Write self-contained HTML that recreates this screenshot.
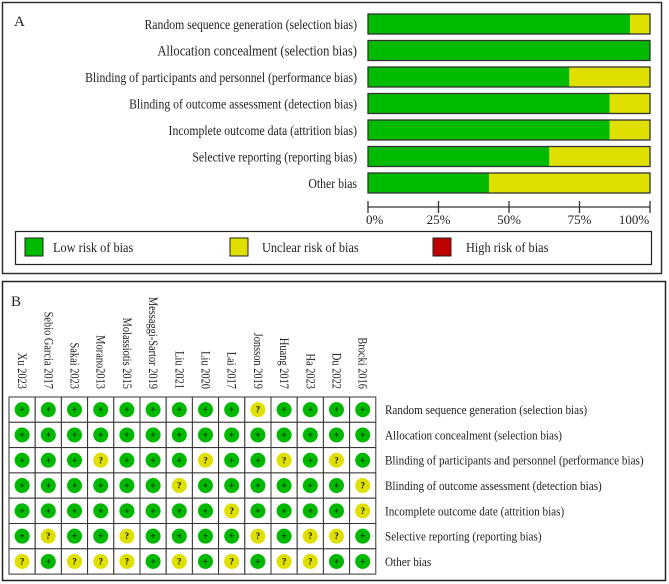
<!DOCTYPE html>
<html><head><meta charset="utf-8"><style>
html,body{margin:0;padding:0;background:#fff;}
svg{display:block;font-family:"Liberation Serif",serif;}
</style></head><body>
<svg id="chart" width="669" height="584" viewBox="0 0 669 584" xmlns="http://www.w3.org/2000/svg">
<rect x="2.5" y="2.5" width="659" height="271" fill="#fff" stroke="#333" stroke-width="1.5"/>
<text x="14" y="26" font-size="15" fill="#222">A</text>
<rect x="2.5" y="281.5" width="663" height="299" fill="#fff" stroke="#222" stroke-width="1.5"/>
<text x="11" y="306" font-size="15" fill="#222">B</text>
<g id="pa"></g><g id="pb"></g>
<rect x="15.5" y="231.5" width="636" height="33" fill="#fff" stroke="#222" stroke-width="1.2"/>
<rect x="25" y="238" width="18" height="18" fill="#00bb00" stroke="#222"/>
<text x="53" y="252" font-size="14" fill="#222" transform="scale(0.88,1)" id="lg1">Low risk of bias</text>
<rect x="230" y="238" width="18" height="18" fill="#e0e000" stroke="#222"/>
<text x="262" y="252" font-size="14" fill="#222" id="lg2">Unclear risk of bias</text>
<rect x="433" y="238" width="18" height="18" fill="#c00000" stroke="#222"/>
<text x="466" y="252" font-size="14" fill="#222" id="lg3">High risk of bias</text>
</svg>
<script>
const domains = ["Random sequence generation (selection bias)","Allocation concealment (selection bias)","Blinding of participants and personnel (performance bias)","Blinding of outcome assessment (detection bias)","Incomplete outcome data (attrition bias)","Selective reporting (reporting bias)","Other bias"];
const lowPct = [92.9, 100, 71.4, 85.7, 85.7, 64.3, 42.9];
const unclearPct = [7.1, 0, 28.6, 14.3, 14.3, 35.7, 57.1];
const tickLabels = ["0%","25%","50%","75%","100%"];
const tickValues = [0,25,50,75,100];
const studies = ["Xu 2023","Sebio Garcia 2017","Sakai 2023","Morano2013","Molassiotis 2015","Messaggi-Sartor 2019","Liu 2021","Liu 2020","Lai 2017","Jonsson 2019","Huang 2017","Ha 2023","Du 2022","Brocki 2016"];
const domainsB = ["Random sequence generation (selection bias)","Allocation concealment (selection bias)","Blinding of participants and personnel (performance bias)","Blinding of outcome assessment (detection bias)","Incomplete outcome date (attrition bias)","Selective reporting (reporting bias)","Other bias"];
const judgements = [
 "+++++++++?++++",
 "++++++++++++++",
 "+++?+++?++?+?+",
 "++++++?++++++?",
 "++++++++?++++?",
 "+?++?++++?+??+",
 "?+???+?+?+??++"
];
const NS="http://www.w3.org/2000/svg";
function mk(tag,attrs,parent,txt){const e=document.createElementNS(NS,tag);for(const k in attrs)e.setAttribute(k,attrs[k]);if(txt!==undefined)e.textContent=txt;parent.appendChild(e);return e;}
// condense legend texts
[['lg1',53],['lg2',262],['lg3',466]].forEach(([id,x])=>{const e=document.getElementById(id);e.setAttribute('transform','scale(0.88,1)');e.setAttribute('x',x/0.88);});
// Panel A
const pa=document.getElementById('pa');
const x0=368,x1=650,rowY0=14,rowStep=26.5,barH=20;
const xs=v=>x0+(x1-x0)*v/100;
const ys=i=>rowY0+i*rowStep;
const fA=0.84;
domains.forEach((d,i)=>{
  const y=ys(i);
  const g=mk('rect',{x:xs(0),y:y,width:xs(lowPct[i])-xs(0),height:barH,fill:'#00bb00'},pa);
  
  
  const u=mk('rect',{x:xs(lowPct[i]),y:y,width:xs(lowPct[i]+unclearPct[i])-xs(lowPct[i]),height:barH,fill:'#e0e000'},pa);
  
  
  const o=mk('rect',{x:xs(0),y:y,width:xs(100)-xs(0),height:barH,fill:'none',stroke:'#333','stroke-width':1.3},pa);
  
  
  const t=mk('text',{x:357/fA,y:y+barH/2+5,'text-anchor':'end','font-size':i==1?15:14,fill:'#222',transform:'scale('+fA+',1)'},pa,d);
  
  
});
const ax=mk('line',{x1:xs(0),x2:xs(100),y1:207,y2:207,stroke:'#333','stroke-width':1.3},pa);


tickValues.forEach((v,i)=>{
  const tk=mk('line',{x1:xs(v),x2:xs(v),y1:201,y2:213,stroke:'#333','stroke-width':1.3},pa);
  
  
  const tl=mk('text',{x:i==0?xs(v)-2:(i==4?xs(v)-16:xs(v)),y:224,'text-anchor':i==0?'start':'middle','font-size':13,fill:'#222'},pa,tickLabels[i]);
  
  
});
// Panel B
const pb=document.getElementById('pb');
const gx0=9,gy0=397,cw=26.2,rh=25.3;
studies.forEach((s,j)=>{
  const cx=gx0+cw*(j+0.5);
  const t=mk('text',{x:0,y:0,'text-anchor':'end','font-size':13,fill:'#222',transform:'translate('+(cx-4)+',389) rotate(90) scale(0.8,1)'},pb,s);
  
  
});
const fB=0.86;
judgements.forEach((row,i)=>{
  const cy=gy0+rh*(i+0.5);
  for(let j=0;j<studies.length;j++){
    const cx=gx0+cw*(j+0.5);
    const c=row[j];
    const cell=mk('rect',{x:gx0+cw*j,y:gy0+rh*i,width:cw,height:rh,fill:'#fff',stroke:'#333','stroke-width':1},pb);
    
    
    const dot=mk('circle',{cx:cx,cy:cy,r:7.5,fill:c=='+'?'#00b800':'#e0e000'},pb);
    
    
    const sym=mk('text',{x:cx,y:cy+3,'text-anchor':'middle','font-size':9,'font-weight':'bold',fill:'#111'},pb,c);
    
    
  }
  const lb=mk('text',{x:385/fB,y:cy+4.5,'font-size':13,fill:'#222',transform:'scale('+fB+',1)'},pb,domainsB[i]);
  
  
});
</script>
</body></html>
